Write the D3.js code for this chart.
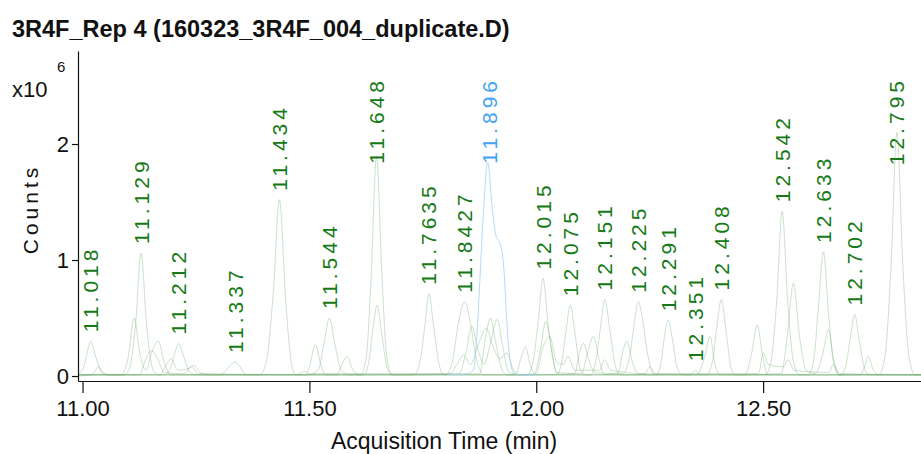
<!DOCTYPE html>
<html>
<head>
<meta charset="utf-8">
<script src="https://cdn.jsdelivr.net/npm/d3@7"></script>
<style>
  body { margin: 0; background: #fff; }
  svg { display: block; font-family: "Liberation Sans", Arial, sans-serif; }
</style>
</head>
<body>
<script>
// peak labels (retention time text) and apex heights, x10^6 counts
var peakLabels = ["11.018", "11.129", "11.212", "11.337", "11.434", "11.544", "11.648", "11.7635", "11.8427", "11.896",
  "12.015", "12.075", "12.151", "12.225", "12.291", "12.351", "12.408", "12.542", "12.633", "12.702", "12.795"];
var peakHeights = [0.30, 1.06, 0.28, 0.12, 1.52, 0.50, 1.90, 0.71, 0.64, 1.84,
  0.84, 0.61, 0.66, 0.64, 0.48, 0.05, 0.66, 1.42, 1.07, 0.53, 2.10];
var bluePeak = "11.896";

var xTicks = [11, 11.5, 12, 12.5];
var yTicks = [0, 1, 2];

// chromatogram traces, [time (min), counts x10^6]
var trace1 = [[10.99,0.01],[11.09,0.01],[11.102,0.05],[11.117,0.45],[11.129,1.06],[11.141,0.45],[11.157,0.04],[11.17,0.01],
  [11.39,0.01],[11.405,0.12],[11.42,0.7],[11.434,1.52],[11.447,0.7],[11.46,0.12],[11.47,0.01],
  [11.612,0.01],[11.625,0.15],[11.636,0.85],[11.648,1.90],[11.66,0.85],[11.671,0.15],[11.682,0.01],
  [12.505,0.01],[12.517,0.12],[12.53,0.65],[12.542,1.42],[12.554,0.65],[12.567,0.12],[12.58,0.01],
  [12.755,0.01],[12.768,0.15],[12.782,0.95],[12.795,2.10],[12.808,0.95],[12.822,0.15],[12.835,0.01],[12.85,0.01]];
var trace2 = [[10.99,0.02],[11.0,0.05],[11.01,0.2],[11.018,0.30],[11.028,0.18],[11.045,0.02],[11.06,0.01],
  [11.50,0.01],[11.52,0.06],[11.533,0.3],[11.544,0.50],[11.556,0.28],[11.57,0.05],[11.59,0.01],
  [11.73,0.01],[11.745,0.15],[11.755,0.45],[11.7635,0.71],[11.773,0.45],[11.785,0.12],[11.795,0.01],
  [11.98,0.01],[11.993,0.12],[12.005,0.5],[12.015,0.84],[12.026,0.45],[12.04,0.08],[12.05,0.01],
  [12.60,0.01],[12.612,0.15],[12.622,0.6],[12.633,1.07],[12.644,0.55],[12.656,0.1],[12.668,0.01],[12.85,0.01]];
var trace3 = [[10.99,0.01],[11.18,0.01],[11.195,0.08],[11.205,0.22],[11.212,0.28],[11.222,0.18],[11.235,0.04],[11.25,0.01],
  [11.80,0.01],[11.815,0.12],[11.828,0.45],[11.8427,0.64],[11.855,0.45],[11.868,0.15],[11.885,0.01],
  [12.12,0.01],[12.13,0.1],[12.141,0.4],[12.151,0.66],[12.162,0.4],[12.175,0.08],[12.185,0.01],
  [12.375,0.01],[12.388,0.12],[12.398,0.42],[12.408,0.66],[12.418,0.4],[12.43,0.06],[12.44,0.01],
  [12.672,0.01],[12.683,0.1],[12.693,0.35],[12.702,0.53],[12.712,0.3],[12.725,0.05],[12.735,0.01],[12.85,0.01]];
var trace4 = [[10.99,0.01],[11.30,0.01],[11.315,0.04],[11.327,0.10],[11.337,0.12],[11.347,0.08],[11.36,0.01],
  [12.045,0.01],[12.056,0.12],[12.066,0.4],[12.075,0.61],[12.085,0.38],[12.097,0.06],[12.108,0.01],
  [12.19,0.02],[12.205,0.15],[12.215,0.42],[12.225,0.64],[12.233,0.52],[12.245,0.2],[12.258,0.02],
  [12.265,0.01],[12.275,0.12],[12.283,0.35],[12.291,0.48],[12.3,0.32],[12.31,0.08],[12.322,0.01],
  [12.34,0.01],[12.351,0.05],[12.36,0.01],[12.85,0.01]];
var trace5 = [[10.99,0.01],[11.085,0.01],[11.1,0.15],[11.114,0.50],[11.126,0.2],[11.14,0.05],[11.152,0.2],[11.167,0.30],[11.18,0.12],[11.195,0.01],
  [11.49,0.01],[11.5,0.08],[11.513,0.27],[11.525,0.1],[11.535,0.01],
  [11.62,0.01],[11.632,0.15],[11.64,0.4],[11.649,0.61],[11.66,0.35],[11.672,0.06],[11.685,0.01],
  [11.875,0.02],[11.887,0.3],[11.899,0.50],[11.91,0.3],[11.925,0.05],[11.935,0.01],
  [11.995,0.01],[12.008,0.2],[12.021,0.47],[12.033,0.25],[12.045,0.03],
  [12.1,0.02],[12.113,0.2],[12.126,0.34],[12.138,0.15],[12.15,0.01],
  [12.355,0.01],[12.37,0.15],[12.383,0.34],[12.394,0.1],[12.405,0.01],
  [12.54,0.02],[12.552,0.3],[12.567,0.80],[12.58,0.35],[12.595,0.05],
  [12.615,0.02],[12.632,0.2],[12.644,0.40],[12.655,0.15],[12.668,0.01],[12.85,0.01]];
var trace6 = [[10.99,0.0],[11.02,0.01],[11.03,0.06],[11.036,0.08],[11.045,0.03],[11.06,0.01],
  [11.125,0.01],[11.14,0.15],[11.152,0.22],[11.165,0.15],[11.18,0.03],
  [11.225,0.02],[11.24,0.08],[11.255,0.02],
  [11.56,0.01],[11.572,0.1],[11.583,0.17],[11.595,0.06],[11.61,0.01],
  [11.83,0.02],[11.845,0.2],[11.858,0.43],[11.87,0.25],[11.885,0.1],[11.9,0.3],[11.914,0.49],[11.925,0.28],[11.94,0.03],
  [11.955,0.02],[11.966,0.15],[11.976,0.25],[11.988,0.08],[12.0,0.01],
  [12.085,0.02],[12.095,0.2],[12.104,0.28],[12.115,0.15],[12.13,0.03],
  [12.18,0.02],[12.19,0.2],[12.2,0.30],[12.212,0.12],[12.225,0.02],
  [12.46,0.01],[12.475,0.2],[12.487,0.44],[12.498,0.2],[12.51,0.01],
  [12.715,0.01],[12.725,0.1],[12.732,0.17],[12.742,0.06],[12.755,0.01],[12.85,0.01]];
var trace7 = [[10.99,0.01],[11.17,0.01],[11.185,0.1],[11.195,0.15],[11.21,0.05],[11.23,0.06],[11.245,0.09],[11.26,0.03],[11.28,0.01],
  [11.47,0.01],[11.49,0.04],[11.5,0.02],
  [11.81,0.02],[11.825,0.1],[11.84,0.18],[11.855,0.1],[11.875,0.3],[11.89,0.41],[11.905,0.25],[11.92,0.15],[11.935,0.2],[11.95,0.05],[11.965,0.01],
  [12.0,0.02],[12.015,0.25],[12.03,0.34],[12.045,0.12],[12.06,0.1],[12.07,0.17],[12.085,0.05],
  [12.14,0.05],[12.15,0.14],[12.165,0.05],[12.24,0.02],[12.25,0.08],[12.262,0.02],
  [12.49,0.02],[12.5,0.2],[12.512,0.1],[12.545,0.08],[12.555,0.14],[12.568,0.05],[12.645,0.03],[12.655,0.1],[12.668,0.02],[12.85,0.01]];
var traceBlue = [[11.80,0.01],[11.85,0.02],[11.862,0.06],[11.872,0.55],[11.882,1.3],[11.893,1.84],[11.903,1.45],[11.912,1.2],
  [11.92,1.15],[11.928,0.95],[11.938,0.3],[11.948,0.04],[11.96,0.01],[12.0,0.01]];

var greenTraces = [trace1, trace2, trace3, trace4, trace5, trace6, trace7];

var w = 921;
var h = 454;
var svg = d3.select("body")
  .append("svg")
  .attr("width", w)
  .attr("height", h);

var xScale = d3.scaleLinear()
  .domain([10.99, 12.848])
  .range([78, 921]);
var yScale = d3.scaleLinear()
  .domain([-0.043, 2.802])
  .range([381, 51]);

// title
svg.append("text")
  .attr("x", 12)
  .attr("y", 37)
  .attr("font-size", "23.5px")
  .attr("font-weight", "bold")
  .attr("fill", "#111")
  .text("3R4F_Rep 4 (160323_3R4F_004_duplicate.D)");

var line = d3.line()
  .x(function(d) { return xScale(d[0]); })
  .y(function(d) { return yScale(d[1]); })
  .curve(d3.curveMonotoneX);

var plot = svg.append("g");

plot.selectAll("path.trace")
  .data(greenTraces)
  .enter()
  .append("path")
  .attr("class", "trace")
  .attr("d", line)
  .attr("fill", "none")
  .attr("stroke", "#6aa86a")
  .attr("stroke-opacity", 0.42)
  .attr("stroke-width", 0.8);

plot.append("path")
  .datum(traceBlue)
  .attr("d", line)
  .attr("fill", "none")
  .attr("stroke", "#a4d0f6")
  .attr("stroke-opacity", 0.9)
  .attr("stroke-width", 0.9);

// axes
var xAxis = d3.axisBottom(xScale)
  .tickValues(xTicks)
  .tickFormat(d3.format(".2f"))
  .tickSizeInner(12)
  .tickSizeOuter(0)
  .tickPadding(7);
var yAxis = d3.axisLeft(yScale)
  .tickValues(yTicks)
  .tickFormat(d3.format("d"))
  .tickSizeInner(6)
  .tickSizeOuter(0)
  .tickPadding(3);

var gx = svg.append("g")
  .attr("transform", "translate(0," + yScale.range()[0] + ")")
  .call(xAxis);
var gy = svg.append("g")
  .attr("transform", "translate(" + xScale.range()[0] + ",0)")
  .call(yAxis);

[gx, gy].forEach(function(g) {
  g.selectAll("path, line").attr("stroke", "#111").attr("stroke-width", 1.2);
  g.selectAll("text")
    .attr("font-family", "'Liberation Sans', Arial, sans-serif")
    .attr("font-size", "22px")
    .attr("fill", "#111");
});

// axis titles
svg.append("text")
  .attr("x", 444)
  .attr("y", 449)
  .attr("text-anchor", "middle")
  .attr("font-size", "23px")
  .attr("fill", "#111")
  .text("Acquisition Time (min)");

svg.append("text")
  .attr("transform", "translate(38,209) rotate(-90)")
  .attr("text-anchor", "middle")
  .attr("font-size", "21px")
  .attr("letter-spacing", "4px")
  .attr("fill", "#111")
  .text("Counts");

svg.append("text")
  .attr("x", 12)
  .attr("y", 97)
  .attr("font-size", "22px")
  .attr("fill", "#111")
  .text("x10");
svg.append("text")
  .attr("x", 57)
  .attr("y", 72)
  .attr("font-size", "15px")
  .attr("fill", "#111")
  .text("6");

// peak labels, rotated, sitting just above each apex
var labels = svg.selectAll("text.peak")
  .data(peakLabels)
  .enter()
  .append("text")
  .attr("class", "peak")
  .attr("font-size", "21px")
  .attr("letter-spacing", "4px")
  .attr("fill", function(d) { return d === bluePeak ? "#43a3f3" : "#157a15"; })
  .text(function(d) { return d; });

labels.attr("transform", function(d, i) {
  var len = this.getComputedTextLength();
  var yb = Math.max(yScale(peakHeights[i]) - 9, 77 + len);
  var xb = xScale(+d) + 7.5;
  return "translate(" + xb + "," + yb + ") rotate(-90)";
});
</script>
</body>
</html>
